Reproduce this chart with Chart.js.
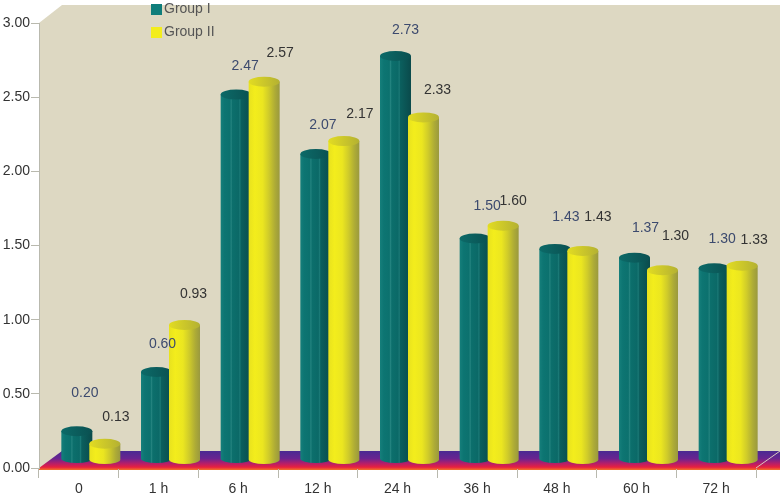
<!DOCTYPE html>
<html>
<head>
<meta charset="utf-8">
<style>
  html, body { margin: 0; padding: 0; background: #fff; }
  canvas { display: block; }
</style>
<script src="https://cdn.jsdelivr.net/npm/chart.js@4"></script>
</head>
<body>
<canvas id="mychartCanvas" width="784" height="496"></canvas>
<script>
var categories = ["0", "1 h", "6 h", "12 h", "24 h", "36 h", "48 h", "60 h", "72 h"];
var groupI = [0.20, 0.60, 2.47, 2.07, 2.73, 1.50, 1.43, 1.37, 1.30];
var groupII = [0.13, 0.93, 2.57, 2.17, 2.33, 1.60, 1.43, 1.30, 1.33];
var yTicks = [0, 0.5, 1, 1.5, 2, 2.5, 3];

// where the value labels sit relative to the top of each cylinder
var labelShift = [
  [[8, -38], [6, -28], [9, -28], [7, -29], [10, -26], [12, -32], [11, -32], [11, -30], [8, -29]],
  [[11, -27], [9, -31], [16, -29], [16, -27], [14, -27], [10, -25], [15, -34], [13, -34], [12, -26]]
];

var FONT = '14px "Liberation Sans", Arial, sans-serif';
var DEPTH_X = 24;

var looks = [
  {
    stops: [[0, "#167f7b"], [0.12, "#0d7572"], [0.3, "#0c716e"], [0.34, "#23837f"], [0.38, "#0c6f6c"],
            [0.58, "#0b6967"], [0.62, "#1a7976"], [0.66, "#0b5f5e"], [1, "#0a4a4b"]],
    topStops: [[0, "#0c6a68"], [1, "#0a5051"]],
    lift: 7, baseLift: 9, labelColor: "#3c4a6e", key: "#0f7d7a"
  },
  {
    stops: [[0, "#e8e21e"], [0.2, "#f3ed1c"], [0.45, "#ebe620"], [0.65, "#cfcb2a"], [0.85, "#adab36"], [1, "#9a993e"]],
    topStops: [[0, "#e2dc22"], [1, "#b4b132"]],
    lift: 5, baseLift: 8, labelColor: "#333333", key: "#f3ed1d"
  }
];

function sideGradient(ctx, cx, rx, stops) {
  var g = ctx.createLinearGradient(cx - rx, 0, cx + rx, 0);
  stops.forEach(function (s) { g.addColorStop(s[0], s[1]); });
  return g;
}

function drawCylinder(ctx, cx, topY, baseY, rx, look) {
  ctx.fillStyle = sideGradient(ctx, cx, rx, look.stops);
  ctx.beginPath();
  ctx.moveTo(cx - rx, topY);
  ctx.lineTo(cx - rx, baseY);
  ctx.ellipse(cx, baseY, rx, 4.5, 0, Math.PI, 0, true);
  ctx.lineTo(cx + rx, topY);
  ctx.closePath();
  ctx.fill();
  ctx.fillStyle = sideGradient(ctx, cx, rx, look.topStops);
  ctx.beginPath();
  ctx.ellipse(cx, topY, rx, 5, 0, 0, Math.PI * 2);
  ctx.fill();
}

var scenePlugin = {
  id: "scene",
  beforeDraw: function (chart) {
    var ctx = chart.ctx, a = chart.chartArea;
    var right = a.right + DEPTH_X;
    var wallTop = a.top - 18;
    var floorBack = a.bottom - 17;

    ctx.save();
    ctx.fillStyle = "#ddd8c2";
    ctx.beginPath();
    ctx.moveTo(a.left, a.top);
    ctx.lineTo(a.left + DEPTH_X - 1, wallTop);
    ctx.lineTo(right, wallTop);
    ctx.lineTo(right, a.bottom + 2);
    ctx.lineTo(a.left, a.bottom + 2);
    ctx.closePath();
    ctx.fill();

    var g = ctx.createLinearGradient(0, floorBack, 0, a.bottom + 2);
    g.addColorStop(0, "#4a2a92");
    g.addColorStop(0.4, "#6a2490");
    g.addColorStop(0.65, "#b41e6a");
    g.addColorStop(0.85, "#e8203f");
    g.addColorStop(1, "#f2742a");
    ctx.fillStyle = g;
    ctx.beginPath();
    ctx.moveTo(a.left, a.bottom);
    ctx.lineTo(a.left + DEPTH_X - 1, floorBack);
    ctx.lineTo(right, floorBack);
    ctx.lineTo(right, a.bottom + 2);
    ctx.lineTo(a.left, a.bottom + 2);
    ctx.closePath();
    ctx.fill();

    ctx.strokeStyle = "#d9c8c0";
    ctx.lineWidth = 1;
    ctx.beginPath();
    ctx.moveTo(a.right, a.bottom);
    ctx.lineTo(right, floorBack);
    ctx.stroke();
    ctx.restore();
  },
  afterDatasetsDraw: function (chart) {
    var ctx = chart.ctx;
    var metas = [chart.getDatasetMeta(0), chart.getDatasetMeta(1)];

    ctx.save();
    categories.forEach(function (c, i) {
      metas.forEach(function (meta, d) {
        var bar = meta.data[i], look = looks[d];
        drawCylinder(ctx, bar.x + 12, bar.y - look.lift, bar.base - look.baseLift, 15.5, look);
      });
    });

    ctx.font = FONT;
    ctx.textAlign = "center";
    ctx.textBaseline = "middle";
    metas.forEach(function (meta, d) {
      var values = chart.data.datasets[d].data;
      ctx.fillStyle = looks[d].labelColor;
      values.forEach(function (v, i) {
        var bar = meta.data[i], s = labelShift[d][i];
        ctx.fillText(v.toFixed(2), bar.x + 12 + s[0], bar.y - looks[d].lift + s[1]);
      });
    });

    // legend
    ctx.textAlign = "left";
    chart.data.datasets.forEach(function (ds, d) {
      var y = 4 + d * 23;
      ctx.fillStyle = looks[d].key;
      ctx.fillRect(151, y, 11, 11);
      ctx.fillStyle = "#555555";
      ctx.fillText(ds.label, 164, y + 5);
    });
    ctx.restore();
  }
};

var ctx = document.getElementById("mychartCanvas");

var data = {
  labels: categories,
  datasets: [
    { label: "Group I", data: groupI, backgroundColor: "transparent", borderWidth: 0, barThickness: 28 },
    { label: "Group II", data: groupII, backgroundColor: "transparent", borderWidth: 0, barThickness: 28 }
  ]
};

var options = {
  responsive: false,
  animation: false,
  devicePixelRatio: 1,
  layout: { padding: { top: 23, right: 28, left: 0, bottom: 0 } },
  plugins: { legend: { display: false }, tooltip: { enabled: false }, title: { display: false } },
  scales: {
    x: {
      offset: true,
      afterFit: function (scale) { scale.height = 28; },
      border: { color: "transparent" },
      grid: { drawOnChartArea: false, offset: true, color: "#b9b9ae", tickLength: 10 },
      ticks: { color: "#333333", font: { family: '"Liberation Sans", Arial, sans-serif', size: 14 }, padding: 3, maxRotation: 0 }
    },
    y: {
      min: 0,
      max: 3,
      afterFit: function (scale) { scale.width = 39; },
      afterBuildTicks: function (scale) {
        scale.ticks = yTicks.map(function (v) { return { value: v }; });
      },
      border: { color: "#b9b9ae", width: 1 },
      grid: { drawOnChartArea: false, color: "#b9b9ae", tickLength: 8 },
      ticks: {
        color: "#333333",
        font: { family: '"Liberation Sans", Arial, sans-serif', size: 14 },
        padding: 1,
        callback: function (v) { return v.toFixed(2); }
      }
    }
  }
};

var chart = new Chart(ctx, {
  type: "bar",
  data: data,
  options: options,
  plugins: [scenePlugin]
});
</script>
</body>
</html>
